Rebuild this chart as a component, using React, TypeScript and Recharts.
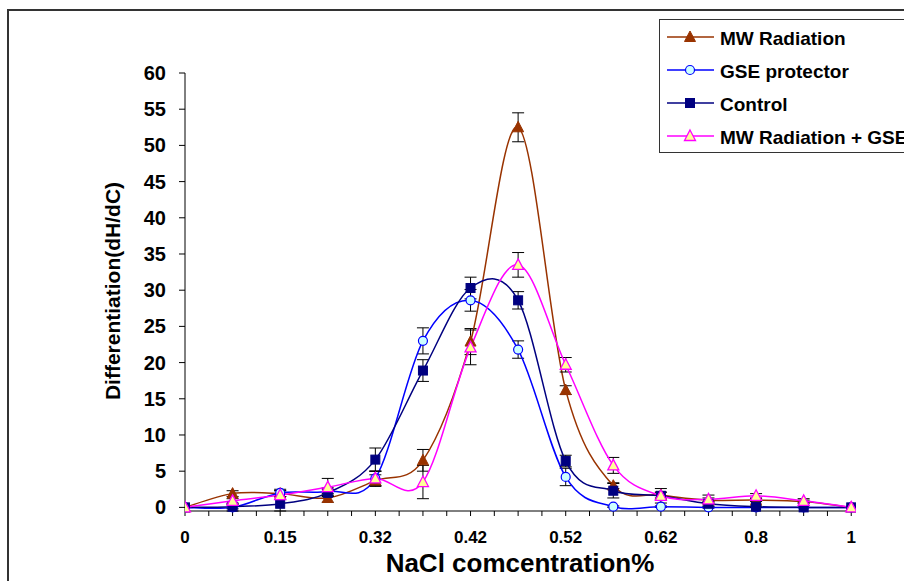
import React from 'react';
import { LineChart, Line, XAxis, YAxis, ErrorBar, Legend } from 'recharts';

// 15 concentration steps; only every second one carries a label on the axis
const categoryIndex = [0, 1, 2, 3, 4, 5, 6, 7, 8, 9, 10, 11, 12, 13, 14];
const tickLabels = ['0', '0.15', '0.32', '0.42', '0.52', '0.62', '0.8', '1'];
const yTicks = [0, 5, 10, 15, 20, 25, 30, 35, 40, 45, 50, 55, 60];

const mwRadiation = [0, 1.9, 1.9, 1.3, 3.7, 6.5, 22.9, 52.5, 16.2, 3.0, 1.7, 1.0, 1.0, 0.8, 0];
const mwRadiationErr = [0, 0.4, 0.4, 0.6, 0.8, 1.5, 1.8, 2.0, 0.6, 0.4, 0.4, 0.3, 0.2, 0.2, 0];
const gseProtector = [0, 0, 2.0, 2.2, 4.0, 23.0, 28.6, 21.8, 4.2, 0.1, 0.1, 0, 0, 0, 0];
const gseProtectorErr = [0, 0.5, 0.5, 0.5, 1.0, 1.8, 1.5, 1.2, 1.2, 0.1, 0.1, 0.1, 0, 0, 0];
const control = [0, 0.1, 0.5, 2.0, 6.6, 18.9, 30.3, 28.6, 6.4, 2.3, 1.6, 0.5, 0.1, 0, 0];
const controlErr = [0, 0.3, 1.0, 0.5, 1.6, 1.5, 1.5, 1.2, 0.8, 1.0, 0.5, 0.3, 0.1, 0, 0];
const mwGse = [0, 0.9, 1.7, 2.8, 4.0, 3.5, 22.1, 33.5, 19.7, 5.8, 1.6, 1.1, 1.6, 0.9, 0];
const mwGseErr = [0, 0.3, 0.6, 1.2, 1.0, 2.3, 2.4, 1.7, 1.0, 1.1, 1.0, 0.6, 0.3, 0.3, 0];

const data = categoryIndex.map((x, i) => ({
  x,
  mw: mwRadiation[i],
  mwErr: mwRadiationErr[i],
  gse: gseProtector[i],
  gseErr: gseProtectorErr[i],
  ctl: control[i],
  ctlErr: controlErr[i],
  mg: mwGse[i],
  mgErr: mwGseErr[i],
}));

const xTicks: number[] = [];
for (let i = 0; i <= 28; i++) xTicks.push(i / 2);

const FONT = "Arial, 'Liberation Sans', sans-serif";

// Excel-like smoothed line (Catmull-Rom through the points)
const excelSmooth: any = (context: any) => {
  let pts: [number, number][] = [];
  return {
    areaStart() {},
    areaEnd() {},
    lineStart() {
      pts = [];
    },
    point(x: number, y: number) {
      pts.push([+x, +y]);
    },
    lineEnd() {
      if (!pts.length) return;
      context.moveTo(pts[0][0], pts[0][1]);
      for (let i = 0; i < pts.length - 1; i++) {
        const p0 = pts[i - 1] || pts[i];
        const p1 = pts[i];
        const p2 = pts[i + 1];
        const p3 = pts[i + 2] || pts[i + 1];
        const c1x = p1[0] + (p2[0] - p0[0]) / 6;
        const c1y = p1[1] + (p2[1] - p0[1]) / 6;
        const c2x = p2[0] - (p3[0] - p1[0]) / 6;
        const c2y = p2[1] - (p3[1] - p1[1]) / 6;
        context.bezierCurveTo(c1x, c1y, c2x, c2y, p2[0], p2[1]);
      }
    },
  };
};

type MarkerKind = 'triFilled' | 'circle' | 'square' | 'triOpen';

const Marker = ({ kind, cx, cy }: { kind: MarkerKind; cx: number; cy: number }) => {
  if (cx == null || cy == null || isNaN(cx) || isNaN(cy)) return null;
  if (kind === 'triFilled') {
    return (
      <polygon
        points={`${cx},${cy - 6} ${cx + 5.5},${cy + 4.5} ${cx - 5.5},${cy + 4.5}`}
        fill="#993300"
        stroke="#993300"
        strokeWidth={1}
      />
    );
  }
  if (kind === 'triOpen') {
    return (
      <polygon
        points={`${cx},${cy - 6} ${cx + 5.5},${cy + 4.5} ${cx - 5.5},${cy + 4.5}`}
        fill="#FFFF99"
        stroke="#FF00FF"
        strokeWidth={1.3}
      />
    );
  }
  if (kind === 'circle') {
    return <circle cx={cx} cy={cy} r={4.5} fill="#CCFFFF" stroke="#0000FF" strokeWidth={1.2} />;
  }
  return <rect x={cx - 4.5} y={cy - 4.5} width={9} height={9} fill="#000080" stroke="#000080" />;
};

const series = [
  { key: 'mw', err: 'mwErr', name: 'MW Radiation', color: '#993300', marker: 'triFilled' as MarkerKind },
  { key: 'gse', err: 'gseErr', name: 'GSE protector', color: '#0000FF', marker: 'circle' as MarkerKind },
  { key: 'ctl', err: 'ctlErr', name: 'Control', color: '#000080', marker: 'square' as MarkerKind },
  { key: 'mg', err: 'mgErr', name: 'MW Radiation + GSE', color: '#FF00FF', marker: 'triOpen' as MarkerKind },
];

const LegendBox = () => (
  <div
    style={{
      width: 300,
      height: 134,
      border: '1.5px solid #333',
      background: '#fff',
      boxSizing: 'border-box',
      position: 'relative',
    }}
  >
    <svg width={300} height={134} style={{ position: 'absolute', left: 0, top: 0 }}>
      {series.map((s, i) => {
        const cy = 17 + i * 33;
        return (
          <g key={s.key}>
            <line x1={7} x2={54} y1={cy} y2={cy} stroke={s.color} strokeWidth={1.5} />
            <Marker kind={s.marker} cx={30} cy={cy} />
            <text
              x={60}
              y={cy + 1}
              dominantBaseline="central"
              fontFamily={FONT}
              fontWeight="bold"
              fontSize={19}
              fill="#000"
            >
              {s.name}
            </text>
          </g>
        );
      })}
    </svg>
  </div>
);

const xTickFormatter = (v: number) => {
  if (Number.isInteger(v) && v % 2 === 0) return tickLabels[v / 2];
  return '';
};

export default function App() {
  return (
    <div
      style={{
        position: 'absolute',
        left: 0,
        top: 0,
        width: 904,
        height: 581,
        overflow: 'hidden',
        background: '#fff',
      }}
    >
      <div
        style={{
          position: 'absolute',
          left: 7,
          top: 9,
          width: 1000,
          height: 1000,
          border: '2px solid #333',
          boxSizing: 'border-box',
        }}
      />
      <div style={{ position: 'absolute', left: 0, top: 0 }}>
        <LineChart
          width={904}
          height={581}
          data={data}
          margin={{ top: 73, right: 48, bottom: 0, left: 0 }}
        >
          <XAxis
            dataKey="x"
            type="number"
            domain={[0, 14.1]}
            allowDataOverflow
            ticks={xTicks}
            interval={0}
            tickFormatter={xTickFormatter}
            tickSize={5}
            tickMargin={15}
            height={70}
            stroke="#000"
            tick={{ fill: '#000', fontFamily: FONT, fontWeight: 'bold', fontSize: 17 }}
            label={{
              content: () => (
                <text
                  x={520}
                  y={572}
                  textAnchor="middle"
                  fontFamily={FONT}
                  fontWeight="bold"
                  fontSize={26}
                  fill="#000"
                >
                  NaCl comcentration%
                </text>
              ),
            }}
          />
          <YAxis
            type="number"
            domain={[0, 60]}
            ticks={yTicks}
            interval={0}
            width={185}
            tickSize={6}
            tickMargin={13}
            stroke="#000"
            tick={{ fill: '#000', fontFamily: FONT, fontWeight: 'bold', fontSize: 20 }}
            label={{
              content: () => (
                <text
                  x={112}
                  y={291}
                  transform="rotate(-90 112 291)"
                  textAnchor="middle"
                  dominantBaseline="central"
                  fontFamily={FONT}
                  fontWeight="bold"
                  fontSize={21}
                  fill="#000"
                >
                  Differentiation(dH/dC)
                </text>
              ),
            }}
          />
          <Legend
            layout="vertical"
            align="center"
            verticalAlign="middle"
            content={() => <LegendBox />}
            wrapperStyle={{ position: 'absolute', left: 659, top: 19, width: 300, height: 134 }}
          />
          {series.map((s) => (
            <Line
              key={s.key}
              dataKey={s.key}
              name={s.name}
              type={excelSmooth}
              stroke={s.color}
              strokeWidth={1.5}
              isAnimationActive={false}
              dot={(p: any) => <Marker key={`${s.key}-${p.index}`} kind={s.marker} cx={p.cx} cy={p.cy} />}
              activeDot={false}
            >
              <ErrorBar dataKey={s.err} direction="y" width={6} stroke="#000" strokeWidth={1} />
            </Line>
          ))}
        </LineChart>
      </div>
    </div>
  );
}
